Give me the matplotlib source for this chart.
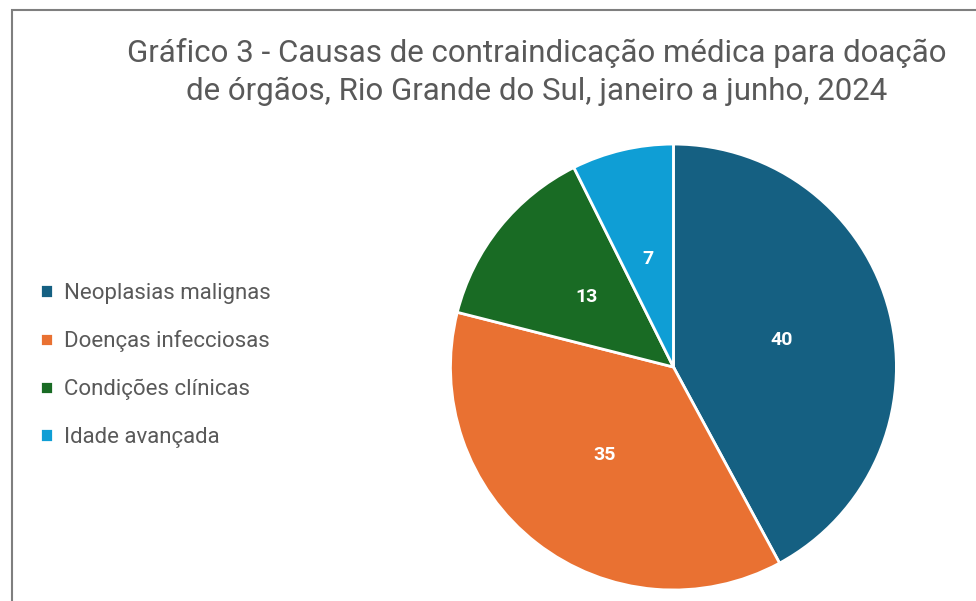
import matplotlib.pyplot as plt
from matplotlib.patches import Rectangle

categories = ['Neoplasias malignas', 'Doenças infecciosas', 'Condições clínicas', 'Idade avançada']
values = [40, 35, 13, 7]
colors = ['#156082', '#E97132', '#196B24', '#0F9ED5']

plt.rcParams['font.family'] = ['Roboto', 'DejaVu Sans']

fig = plt.figure(figsize=(9.76, 6.01), dpi=100)
fig.patch.set_facecolor('white')

# chart frame (cut off on right and bottom like the screenshot)
fig.patches.append(Rectangle((12 / 976, -0.1), 1.2, 1.1 - 10 / 601, transform=fig.transFigure,
                             fill=False, edgecolor='#7f7f7f', linewidth=1.5))

fig.text(0.550, 0.880, 'Gráfico 3 - Causas de contraindicação médica para doação\n'
         'de órgãos, Rio Grande do Sul, janeiro a junho, 2024',
         ha='center', va='center', fontsize=22.5, color='#595959', linespacing=1.35)

ax = fig.add_axes([0.4615, 0.0183, 0.457, 0.742])
wedges, texts, autotexts = ax.pie(values, colors=colors, startangle=90, counterclock=False,
                                  autopct=lambda p: f'{p * sum(values) / 100:.0f}', pctdistance=0.5,
                                  wedgeprops=dict(edgecolor='white', linewidth=2))
for t in autotexts:
    t.set_color('white')
    t.set_fontsize(14)
    t.set_fontweight('bold')
ax.set_xlim(-1.0, 1.0)
ax.set_ylim(-1.0, 1.0)
ax.set_aspect('equal')

fig.legend(wedges, categories, loc='center left', bbox_to_anchor=(0.021, 0.392),
           frameon=False, fontsize=16, labelcolor='#595959',
           handlelength=0.55, handleheight=0.55, handletextpad=0.5, labelspacing=1.2)

fig.savefig('out.png', dpi=100)
